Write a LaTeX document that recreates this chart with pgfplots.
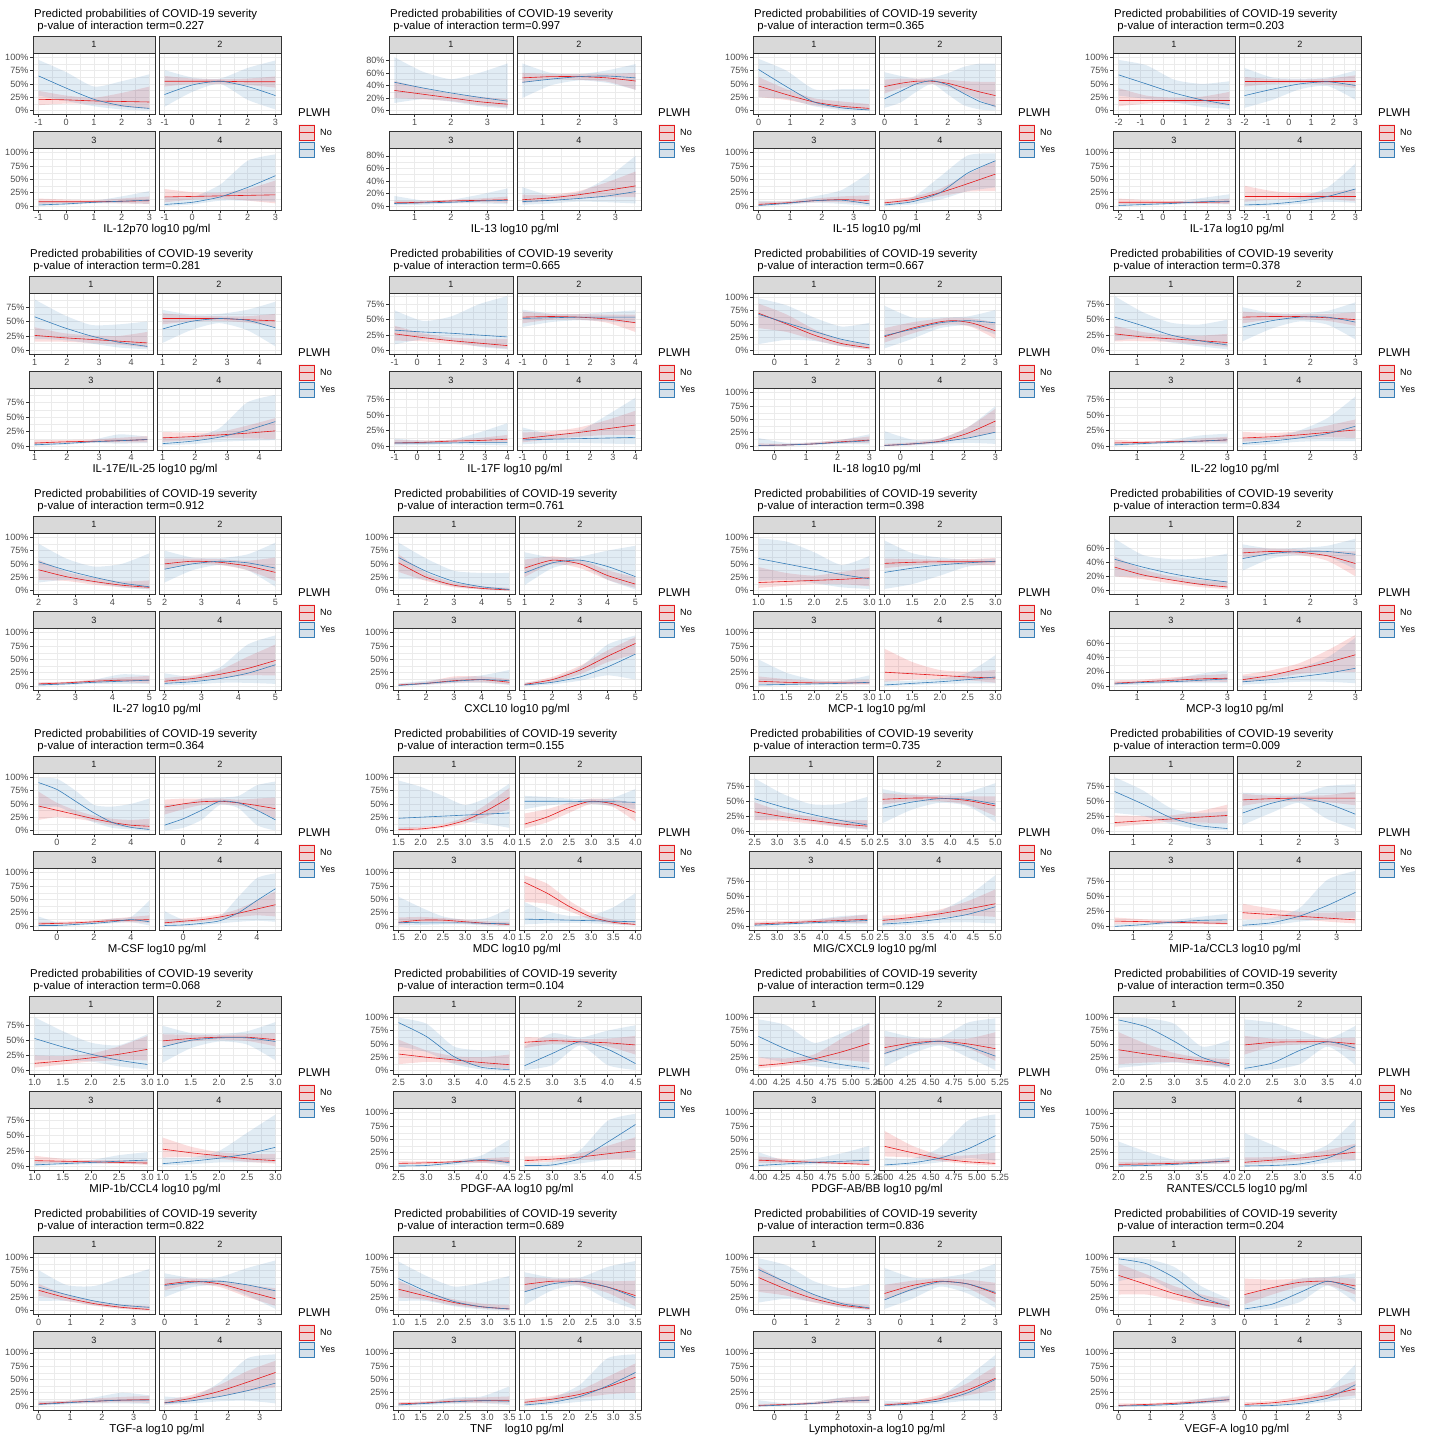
\documentclass[border=0pt]{standalone}
\usepackage{fontspec}
\setmainfont{Liberation Sans}
\usepackage{pgfplots}
\pgfplotsset{compat=1.18}
\usepgfplotslibrary{fillbetween}
\definecolor{cR}{HTML}{E41A1C}
\definecolor{cB}{HTML}{377EB8}
\definecolor{g10}{gray}{0.1}
\definecolor{g20}{gray}{0.2}
\definecolor{g30}{gray}{0.3}
\definecolor{g85}{gray}{0.85}
\definecolor{g92}{gray}{0.92}
\definecolor{g95}{gray}{0.95}
\newcommand\fs[1]{\fontsize{#1}{#1}\selectfont}
\pgfplotsset{
 base/.style={scale only axis, height=61.5pt,
   axis line style={draw=g20, line width=0.55pt},
   grid=both, major grid style={draw=g92, line width=0.6pt}, minor grid style={draw=g92, line width=0.3pt},
   tick align=outside, major tick length=2.8pt, minor tick length=0pt, tick pos=left,
   tick style={draw=g20, line width=0.55pt},
   tick label style={font=\fs{9.1}, text=g30},
   xticklabel style={inner sep=1.5pt},
   yticklabel style={inner sep=1.5pt},
   /pgf/number format/assume math mode=true,
   extra description/.code={\draw[fill=g85,draw=g20,line width=0.55pt] (0,1) rectangle ([yshift=17pt]1,1);
      \node[font=\fs{9.1},text=g10] at ([yshift=8.5pt]0.5,1) {\striplabel};}},
 fcol0/.style={},
 fcol1/.style={yticklabel style={opacity=0}, ytick style={draw=none}},
 yP/.style={ymin=-0.075,ymax=1.08,ytick={0,0.25,0.5,0.75,1},yticklabels={0\%,25\%,50\%,75\%,100\%},minor ytick={0.125,0.375,0.625,0.875}},
 yQ/.style 2 args={ymin=#1,ymax=#2,ytick={0,0.25,0.5,0.75},yticklabels={0\%,25\%,50\%,75\%},minor ytick={0.125,0.375,0.625,0.875}},
 yE/.style={ymin=-0.064,ymax=0.917,ytick={0,0.2,0.4,0.6,0.8},yticklabels={0\%,20\%,40\%,60\%,80\%},minor ytick={0.1,0.3,0.5,0.7}},
 yS/.style={ymin=-0.056,ymax=0.81,ytick={0,0.2,0.4,0.6},yticklabels={0\%,20\%,40\%,60\%},minor ytick={0.1,0.3,0.5,0.7}},
 ln/.style={line width=0.6pt, smooth, tension=0.4},
 rb/.style={draw=none, smooth, tension=0.4},
}
\newcommand\Panel[6]{%
 \pgfmathsetmacro\PX{360*#1}%
 \pgfmathsetmacro\PY{-240*#2}%
 \pgfmathsetmacro\PL{#3}%
 \pgfmathsetmacro\FW{(277-#3)/2}%
 \pgfplotsset{panel/.style={#6}}%
 \node[anchor=base west,inner sep=0pt,font=\fs{11.4}] at ({\PX pt+\PL pt+1pt},{\PY pt-17pt}) {Predicted probabilities of COVID-19 severity};
 \node[anchor=base west,inner sep=0pt,font=\fs{11.4}] at ({\PX pt+\PL pt+1pt},{\PY pt-29pt}) {\ p-value of interaction term=#4};
 \node[font=\fs{11.4}] at ({\PX pt+(\PL pt+281pt)/2},{\PY pt-230pt}) {#5};
 \pgfmathsetmacro\lx{\PX+298}%
 \node[anchor=west,inner sep=0pt,font=\fs{11.4}] at ({\lx pt},{\PY pt-113pt}) {PLWH};
 \fill[g95] ({\lx pt},{\PY pt-124pt}) rectangle ({\lx pt+17pt},{\PY pt-158pt});
 \draw[cR,line width=0.5pt,fill=cR,fill opacity=0.15] ({\lx pt+1pt},{\PY pt-125pt}) rectangle ({\lx pt+16pt},{\PY pt-140pt});
 \draw[cR,line width=0.6pt] ({\lx pt+1pt},{\PY pt-132.5pt}) -- ({\lx pt+16pt},{\PY pt-132.5pt});
 \draw[cB,line width=0.5pt,fill=cB,fill opacity=0.15] ({\lx pt+1pt},{\PY pt-142pt}) rectangle ({\lx pt+16pt},{\PY pt-157pt});
 \draw[cB,line width=0.6pt] ({\lx pt+1pt},{\PY pt-149.5pt}) -- ({\lx pt+16pt},{\PY pt-149.5pt});
 \node[anchor=west,inner sep=0pt,font=\fs{9.1}] at ({\lx pt+22pt},{\PY pt-132.5pt}) {No};
 \node[anchor=west,inner sep=0pt,font=\fs{9.1}] at ({\lx pt+22pt},{\PY pt-149.5pt}) {Yes};
}
\newcommand\Facet[5]{%
 \pgfmathsetmacro\fx{\PX+\PL+#1*(\FW+4)}%
 \pgfmathsetmacro\fy{\PY-53-#2*95.5}%
 \def\striplabel{#3}%
 \begin{axis}[base,panel,fcol#1,at={(\fx pt,\fy pt)},anchor=north west,width=\FW pt]
  \addplot[ln,cR] table[row sep=\\]{#4};
  \addplot[ln,cB] table[row sep=\\]{#5};
  \addplot[rb,name path=ru] table[row sep=\\,y index=3]{#4};
  \addplot[rb,name path=rl] table[row sep=\\,y index=2]{#4};
  \addplot[fill=cR,fill opacity=0.15,draw=none] fill between[of=ru and rl];
  \addplot[rb,name path=bu] table[row sep=\\,y index=3]{#5};
  \addplot[rb,name path=bl] table[row sep=\\,y index=2]{#5};
  \addplot[fill=cB,fill opacity=0.15,draw=none] fill between[of=bu and bl];
 \end{axis}}
\begin{document}
\begin{tikzpicture}
\path (0pt,0pt) rectangle (1435pt,-1441pt);
% ---------- P1 IL-12p70
\Panel{0}{0}{33}{0.227}{IL-12p70 log10 pg/ml}{yP,xmin=-1.2,xmax=3.2,xtick={-1,0,1,2,3},xticklabels={-1,0,1,2,3},minor xtick={-0.5,0.5,1.5,2.5}}
\Facet{0}{0}{1}{-1 .21 .10 .37\\ 0 .20 .13 .28\\ 1 .18 .12 .24\\ 2 .17 .07 .33\\ 3 .16 .03 .45\\}{-1 .65 .28 .95\\ 0 .42 .18 .72\\ 1 .21 .08 .45\\ 2 .09 .02 .55\\ 3 .04 0 .68\\}
\Facet{1}{0}{2}{-1 .55 .45 .65\\ 0 .55 .50 .60\\ 1 .55 .50 .59\\ 2 .54 .48 .60\\ 3 .54 .43 .64\\}{-1 .30 .07 .76\\ 0 .48 .35 .62\\ 1 .55 .50 .60\\ 2 .45 .20 .80\\ 3 .28 .02 .94\\}
\Facet{0}{1}{3}{-1 .08 .04 .14\\ 0 .08 .05 .12\\ 1 .08 .06 .11\\ 2 .09 .05 .14\\ 3 .10 .04 .18\\}{-1 .02 0 .10\\ 0 .04 .02 .09\\ 1 .07 .05 .10\\ 2 .09 .05 .18\\ 3 .11 .04 .28\\}
\Facet{1}{1}{4}{-1 .17 .07 .32\\ 0 .18 .12 .26\\ 1 .19 .14 .25\\ 2 .20 .10 .32\\ 3 .21 .05 .48\\}{-1 .03 0 .18\\ 0 .07 .03 .17\\ 1 .17 .10 .40\\ 2 .35 .10 .85\\ 3 .57 .08 .97\\}
% ---------- P2 IL-13
\Panel{1}{0}{29}{0.997}{IL-13 log10 pg/ml}{yE,xmin=0.3,xmax=3.7,xtick={1,2,3},xticklabels={1,2,3},minor xtick={0.5,1.5,2.5,3.5}}
\Facet{0}{0}{1}{.45 .32 .20 .47\\ 1.225 .26 .18 .36\\ 2 .20 .15 .27\\ 2.775 .14 .09 .22\\ 3.55 .10 .05 .18\\}{.45 .45 .12 .85\\ 1.225 .36 .18 .62\\ 2 .28 .14 .50\\ 2.775 .21 .07 .60\\ 3.55 .15 .03 .75\\}
\Facet{1}{0}{2}{.45 .52 .44 .60\\ 1.225 .54 .50 .58\\ 2 .54 .49 .58\\ 2.775 .52 .46 .58\\ 3.55 .47 .33 .60\\}{.45 .45 .20 .75\\ 1.225 .50 .40 .60\\ 2 .54 .48 .58\\ 2.775 .55 .44 .64\\ 3.55 .52 .33 .74\\}
\Facet{0}{1}{3}{.45 .05 .03 .08\\ 1.225 .06 .04 .08\\ 2 .08 .05 .10\\ 2.775 .09 .06 .12\\ 3.55 .10 .05 .15\\}{.45 .04 .01 .16\\ 1.225 .05 .02 .09\\ 2 .06 .04 .10\\ 2.775 .08 .04 .18\\ 3.55 .09 .03 .28\\}
\Facet{1}{1}{4}{.45 .10 .05 .18\\ 1.225 .13 .08 .18\\ 2 .18 .12 .24\\ 2.775 .25 .14 .38\\ 3.55 .32 .14 .55\\}{.45 .07 .02 .30\\ 1.225 .09 .04 .17\\ 2 .12 .07 .22\\ 2.775 .16 .06 .45\\ 3.55 .23 .04 .80\\}
% ---------- P3 IL-15
\Panel{2}{0}{33}{0.365}{IL-15 log10 pg/ml}{yP,xmin=-0.175,xmax=3.675,xtick={0,1,2,3},xticklabels={0,1,2,3},minor xtick={0.5,1.5,2.5,3.5}}
\Facet{0}{0}{1}{0 .46 .25 .63\\ .875 .30 .20 .40\\ 1.75 .16 .10 .23\\ 2.625 .08 .04 .17\\ 3.5 .04 .01 .12\\}{0 .77 .25 .97\\ .875 .45 .22 .75\\ 1.75 .16 .08 .40\\ 2.625 .05 .01 .40\\ 3.5 .01 0 .40\\}
\Facet{1}{0}{2}{0 .45 .32 .58\\ .5 .51 .42 .60\\ 1 .55 .48 .60\\ 1.5 .55 .50 .60\\ 2 .51 .44 .58\\ 2.5 .43 .33 .55\\ 3 .35 .20 .54\\ 3.5 .28 .05 .54\\}{0 .22 .05 .72\\ .5 .36 .15 .65\\ 1 .50 .35 .60\\ 1.5 .56 .50 .62\\ 2 .48 .30 .70\\ 2.5 .32 .10 .82\\ 3 .17 .02 .88\\ 3.5 .08 0 .88\\}
\Facet{0}{1}{3}{0 .03 .01 .08\\ .875 .06 .04 .09\\ 1.75 .10 .07 .14\\ 2.625 .12 .07 .18\\ 3.5 .10 .04 .20\\}{0 .01 0 .10\\ .875 .05 .02 .09\\ 1.75 .10 .06 .18\\ 2.625 .11 .04 .30\\ 3.5 .04 0 .63\\}
\Facet{1}{1}{4}{0 .06 .03 .12\\ .875 .12 .08 .17\\ 1.75 .25 .18 .32\\ 2.625 .42 .27 .60\\ 3.5 .60 .28 .85\\}{0 .02 0 .08\\ .875 .08 .03 .16\\ 1.75 .25 .12 .55\\ 2.625 .62 .28 .95\\ 3.5 .85 .35 .99\\}
% ---------- P4 IL-17a
\Panel{3}{0}{33}{0.203}{IL-17a log10 pg/ml}{yP,xmin=-2.25,xmax=3.25,xtick={-2,-1,0,1,2,3},xticklabels={-2,-1,0,1,2,3},minor xtick={-1.5,-0.5,0.5,1.5,2.5}}
\Facet{0}{0}{1}{-2 .19 .08 .42\\ -.75 .19 .13 .28\\ .5 .19 .15 .24\\ 1.75 .19 .14 .26\\ 3 .19 .09 .35\\}{-2 .67 .28 .95\\ -.75 .50 .22 .85\\ .5 .33 .15 .58\\ 1.75 .20 .07 .50\\ 3 .11 .03 .55\\}
\Facet{1}{0}{2}{-2 .54 .45 .63\\ -.75 .54 .50 .59\\ .5 .54 .51 .58\\ 1.75 .54 .49 .60\\ 3 .54 .42 .66\\}{-2 .28 .05 .80\\ -.75 .40 .20 .62\\ .5 .50 .40 .60\\ 1.75 .54 .46 .62\\ 3 .47 .20 .75\\}
\Facet{0}{1}{3}{-2 .07 .03 .14\\ -.75 .07 .04 .11\\ .5 .07 .05 .10\\ 1.75 .07 .05 .10\\ 3 .08 .04 .14\\}{-2 .01 0 .06\\ -.75 .03 .01 .06\\ .5 .05 .03 .08\\ 1.75 .08 .04 .15\\ 3 .09 .03 .22\\}
\Facet{1}{1}{4}{-2 .18 .08 .38\\ -.75 .18 .12 .28\\ .5 .18 .13 .24\\ 1.75 .18 .13 .26\\ 3 .18 .09 .32\\}{-2 .02 0 .12\\ -.75 .04 .01 .12\\ .5 .09 .04 .17\\ 1.75 .18 .08 .35\\ 3 .32 .06 .80\\}
% ---------- P5 IL-17E/IL-25
\Panel{0}{1}{29}{0.281}{IL-17E/IL-25 log10 pg/ml}{yQ={-0.07}{0.99},xmin=0.825,xmax=4.675,xtick={1,2,3,4},xticklabels={1,2,3,4},minor xtick={1.5,2.5,3.5,4.5}}
\Facet{0}{0}{1}{1 .26 .15 .40\\ 1.875 .22 .15 .30\\ 2.75 .19 .13 .26\\ 3.625 .16 .10 .25\\ 4.5 .13 .05 .32\\}{1 .58 .20 .88\\ 1.875 .40 .18 .62\\ 2.75 .25 .12 .44\\ 3.625 .14 .05 .45\\ 4.5 .07 .02 .50\\}
\Facet{1}{0}{2}{1 .55 .45 .64\\ 1.875 .55 .50 .60\\ 2.75 .55 .51 .59\\ 3.625 .53 .48 .59\\ 4.5 .51 .40 .63\\}{1 .37 .13 .70\\ 1.875 .50 .35 .62\\ 2.75 .55 .47 .63\\ 3.625 .52 .35 .70\\ 4.5 .39 .07 .84\\}
\Facet{0}{1}{3}{1 .05 .03 .10\\ 1.875 .07 .05 .10\\ 2.75 .08 .06 .11\\ 3.625 .09 .06 .14\\ 4.5 .11 .06 .17\\}{1 .02 0 .06\\ 1.875 .04 .02 .06\\ 2.75 .07 .05 .10\\ 3.625 .09 .04 .20\\ 4.5 .11 .05 .16\\}
\Facet{1}{1}{4}{1 .14 .07 .24\\ 1.875 .16 .10 .23\\ 2.75 .19 .14 .24\\ 3.625 .22 .13 .35\\ 4.5 .26 .12 .48\\}{1 .04 .01 .15\\ 1.875 .08 .03 .16\\ 2.75 .15 .07 .30\\ 3.625 .27 .09 .75\\ 4.5 .42 .10 .88\\}
% ---------- P6 IL-17F
\Panel{1}{1}{29}{0.665}{IL-17F log10 pg/ml}{yQ={-0.064}{0.93},xmin=-1.25,xmax=4.25,xtick={-1,0,1,2,3,4},xticklabels={-1,0,1,2,3,4},minor xtick={-0.5,0.5,1.5,2.5,3.5}}
\Facet{0}{0}{1}{-1 .27 .16 .40\\ .25 .21 .15 .28\\ 1.5 .16 .11 .21\\ 2.75 .12 .07 .19\\ 4 .08 .03 .19\\}{-1 .33 .10 .65\\ .25 .30 .18 .48\\ 1.5 .28 .15 .55\\ 2.75 .25 .06 .75\\ 4 .22 .02 .88\\}
\Facet{1}{0}{2}{-1 .54 .44 .63\\ .25 .55 .50 .59\\ 1.5 .54 .50 .59\\ 2.75 .51 .45 .58\\ 4 .45 .30 .58\\}{-1 .52 .38 .66\\ .25 .53 .46 .60\\ 1.5 .54 .49 .59\\ 2.75 .54 .47 .62\\ 4 .54 .44 .65\\}
\Facet{0}{1}{3}{-1 .05 .03 .10\\ .25 .06 .04 .09\\ 1.5 .08 .05 .10\\ 2.75 .09 .06 .13\\ 4 .11 .06 .18\\}{-1 .05 .01 .12\\ .25 .05 .02 .09\\ 1.5 .05 .03 .10\\ 2.75 .06 .02 .22\\ 4 .06 .01 .37\\}
\Facet{1}{1}{4}{-1 .12 .06 .22\\ .25 .17 .11 .24\\ 1.5 .22 .15 .30\\ 2.75 .28 .18 .42\\ 4 .34 .18 .57\\}{-1 .10 .03 .30\\ .25 .11 .05 .20\\ 1.5 .12 .05 .24\\ 2.75 .13 .04 .50\\ 4 .14 .03 .78\\}
% ---------- P7 IL-18
\Panel{2}{1}{33}{0.667}{IL-18 log10 pg/ml}{yP,xmin=-0.675,xmax=3.175,xtick={0,1,2,3},xticklabels={0,1,2,3},minor xtick={-0.5,0.5,1.5,2.5}}
\Facet{0}{0}{1}{-.5 .70 .42 .88\\ .375 .50 .35 .68\\ 1.25 .29 .20 .40\\ 2.125 .13 .08 .20\\ 3 .05 .02 .12\\}{-.5 .68 .12 .98\\ .375 .52 .20 .85\\ 1.25 .36 .18 .62\\ 2.125 .21 .08 .45\\ 3 .11 .02 .52\\}
\Facet{1}{0}{2}{-.5 .26 .15 .42\\ .375 .42 .32 .53\\ 1.25 .54 .47 .60\\ 1.75 .56 .50 .62\\ 2.3 .51 .43 .60\\ 3 .37 .22 .53\\}{-.5 .28 .04 .84\\ .375 .40 .22 .62\\ 1.25 .52 .42 .62\\ 2.125 .56 .47 .64\\ 3 .52 .30 .76\\}
\Facet{0}{1}{3}{-.5 .01 0 .05\\ .375 .02 .01 .04\\ 1.25 .04 .03 .07\\ 2.125 .08 .05 .12\\ 3 .11 .06 .18\\}{-.5 .01 0 .15\\ .375 .02 0 .06\\ 1.25 .04 .02 .07\\ 2.125 .07 .04 .12\\ 3 .10 .03 .22\\}
\Facet{1}{1}{4}{-.5 .01 0 .04\\ .375 .04 .02 .07\\ 1.25 .09 .06 .14\\ 2.125 .24 .15 .35\\ 3 .47 .25 .70\\}{-.5 .01 0 .28\\ .375 .04 .01 .12\\ 1.25 .08 .04 .14\\ 2.125 .15 .06 .35\\ 3 .26 .04 .75\\}
% ---------- P8 IL-22
\Panel{3}{1}{29}{0.378}{IL-22 log10 pg/ml}{yQ={-0.064}{0.93},xmin=0.375,xmax=3.125,xtick={1,2,3},xticklabels={1,2,3},minor xtick={0.5,1.5,2.5}}
\Facet{0}{0}{1}{.5 .27 .15 .40\\ 1.125 .22 .15 .30\\ 1.75 .19 .14 .25\\ 2.375 .16 .10 .24\\ 3 .13 .06 .27\\}{.5 .54 .16 .88\\ 1.125 .40 .20 .62\\ 1.75 .25 .13 .45\\ 2.375 .16 .07 .42\\ 3 .09 .02 .50\\}
\Facet{1}{0}{2}{.5 .54 .44 .63\\ 1.125 .55 .50 .60\\ 1.75 .55 .51 .59\\ 2.375 .53 .48 .59\\ 3 .50 .40 .62\\}{.5 .38 .15 .70\\ 1.125 .48 .35 .61\\ 1.75 .54 .47 .60\\ 2.375 .54 .42 .64\\ 3 .46 .18 .78\\}
\Facet{0}{1}{3}{.5 .05 .03 .10\\ 1.125 .06 .04 .08\\ 1.75 .07 .05 .09\\ 2.375 .08 .06 .12\\ 3 .10 .06 .15\\}{.5 .02 0 .06\\ 1.125 .04 .02 .06\\ 1.75 .06 .04 .10\\ 2.375 .08 .04 .17\\ 3 .10 .04 .20\\}
\Facet{1}{1}{4}{.5 .13 .07 .23\\ 1.125 .15 .10 .21\\ 1.75 .18 .13 .24\\ 2.375 .22 .14 .33\\ 3 .26 .13 .43\\}{.5 .04 .01 .12\\ 1.125 .08 .03 .14\\ 1.75 .13 .07 .25\\ 2.375 .20 .08 .45\\ 3 .32 .08 .80\\}
% ---------- P9 IL-27
\Panel{0}{2}{33}{0.912}{IL-27 log10 pg/ml}{yP,xmin=1.85,xmax=5.15,xtick={2,3,4,5},xticklabels={2,3,4,5},minor xtick={2.5,3.5,4.5}}
\Facet{0}{0}{1}{2 .39 .20 .58\\ 2.75 .26 .18 .35\\ 3.5 .17 .11 .24\\ 4.25 .10 .06 .17\\ 5 .06 .03 .19\\}{2 .54 .15 .88\\ 2.75 .38 .20 .60\\ 3.5 .25 .15 .45\\ 4.25 .14 .06 .50\\ 5 .07 .02 .70\\}
\Facet{1}{0}{2}{2 .50 .40 .60\\ 2.75 .55 .50 .60\\ 3.5 .53 .48 .59\\ 4.25 .46 .38 .56\\ 5 .34 .18 .62\\}{2 .40 .15 .75\\ 2.75 .50 .38 .62\\ 3.5 .55 .48 .61\\ 4.25 .52 .38 .68\\ 5 .42 .07 .90\\}
\Facet{0}{1}{3}{2 .04 .02 .07\\ 2.75 .06 .04 .08\\ 3.5 .09 .06 .12\\ 4.25 .11 .07 .16\\ 5 .11 .05 .19\\}{2 .02 0 .06\\ 2.75 .04 .02 .07\\ 3.5 .07 .04 .12\\ 4.25 .09 .04 .22\\ 5 .11 .04 .20\\}
\Facet{1}{1}{4}{2 .09 .05 .15\\ 2.75 .14 .09 .20\\ 3.5 .22 .15 .30\\ 4.25 .33 .20 .55\\ 5 .48 .20 .78\\}{2 .05 .01 .24\\ 2.75 .08 .03 .18\\ 3.5 .14 .06 .35\\ 4.25 .24 .06 .78\\ 5 .40 .04 .95\\}
% ---------- P10 CXCL10
\Panel{1}{2}{33}{0.761}{CXCL10 log10 pg/ml}{yP,xmin=0.8,xmax=5.2,xtick={1,2,3,4,5},xticklabels={1,2,3,4,5},minor xtick={1.5,2.5,3.5,4.5}}
\Facet{0}{0}{1}{1 .52 .35 .68\\ 2 .25 .18 .33\\ 3 .10 .06 .15\\ 4 .04 .02 .08\\ 5 .01 0 .05\\}{1 .62 .22 .90\\ 2 .36 .20 .60\\ 3 .17 .08 .37\\ 4 .07 .02 .33\\ 5 .02 0 .33\\}
\Facet{1}{0}{2}{1 .42 .25 .58\\ 2 .57 .50 .64\\ 3 .50 .42 .58\\ 4 .28 .20 .38\\ 5 .12 .05 .25\\}{1 .33 .10 .72\\ 2 .52 .42 .62\\ 3 .57 .50 .64\\ 4 .45 .20 .75\\ 5 .26 .02 .84\\}
\Facet{0}{1}{3}{1 .02 .01 .04\\ 2 .05 .03 .08\\ 3 .10 .06 .18\\ 4 .12 .07 .18\\ 5 .07 .03 .13\\}{1 .01 0 .05\\ 2 .05 .02 .10\\ 3 .09 .05 .15\\ 4 .12 .06 .20\\ 5 .10 .02 .30\\}
\Facet{1}{1}{4}{1 .03 .01 .06\\ 2 .12 .07 .17\\ 3 .30 .22 .38\\ 4 .56 .45 .67\\ 5 .80 .60 .92\\}{1 .02 0 .06\\ 2 .07 .03 .14\\ 3 .17 .10 .35\\ 4 .36 .20 .78\\ 5 .60 .12 .95\\}
% ---------- P11 MCP-1
\Panel{2}{2}{33}{0.398}{MCP-1 log10 pg/ml}{yP,xmin=0.9,xmax=3.1,xtick={1,1.5,2,2.5,3},xticklabels={1.0,1.5,2.0,2.5,3.0},minor xtick={1.25,1.75,2.25,2.75}}
\Facet{0}{0}{1}{1 .15 .05 .44\\ 1.5 .17 .09 .33\\ 2 .19 .12 .28\\ 2.5 .21 .12 .35\\ 3 .24 .08 .42\\}{1 .60 .18 .98\\ 1.5 .50 .20 .92\\ 2 .40 .14 .72\\ 2.5 .30 .06 .48\\ 3 .22 .03 .65\\}
\Facet{1}{0}{2}{1 .51 .42 .60\\ 1.5 .53 .47 .59\\ 2 .54 .50 .58\\ 2.5 .54 .49 .59\\ 3 .54 .47 .61\\}{1 .34 .03 .94\\ 1.5 .42 .12 .70\\ 2 .48 .28 .62\\ 2.5 .52 .45 .58\\ 3 .55 .49 .60\\}
\Facet{0}{1}{3}{1 .09 .04 .18\\ 1.5 .07 .04 .13\\ 2 .06 .04 .10\\ 2.5 .06 .03 .10\\ 3 .06 .03 .12\\}{1 .02 0 .50\\ 1.5 .03 .01 .25\\ 2 .04 .02 .12\\ 2.5 .05 .03 .10\\ 3 .07 .03 .20\\}
\Facet{1}{1}{4}{1 .26 .08 .70\\ 1.5 .23 .12 .45\\ 2 .20 .13 .30\\ 2.5 .17 .11 .27\\ 3 .15 .06 .30\\}{1 .02 0 .10\\ 1.5 .05 .02 .10\\ 2 .08 .04 .14\\ 2.5 .12 .05 .25\\ 3 .17 .05 .58\\}
% ---------- P12 MCP-3
\Panel{3}{2}{29}{0.834}{MCP-3 log10 pg/ml}{yS,xmin=0.375,xmax=3.125,xtick={1,2,3},xticklabels={1,2,3},minor xtick={0.5,1.5,2.5}}
\Facet{0}{0}{1}{.5 .33 .20 .48\\ 1.125 .22 .16 .30\\ 1.75 .15 .10 .20\\ 2.375 .09 .05 .15\\ 3 .05 .02 .13\\}{.5 .44 .20 .73\\ 1.125 .33 .20 .50\\ 1.75 .24 .15 .44\\ 2.375 .17 .08 .45\\ 3 .12 .04 .52\\}
\Facet{1}{0}{2}{.5 .53 .46 .60\\ 1.125 .55 .51 .59\\ 1.75 .54 .50 .58\\ 2.375 .49 .42 .56\\ 3 .38 .20 .55\\}{.5 .45 .28 .65\\ 1.125 .52 .45 .59\\ 1.75 .55 .50 .60\\ 2.375 .55 .48 .63\\ 3 .51 .30 .73\\}
\Facet{0}{1}{3}{.5 .04 .02 .08\\ 1.125 .06 .04 .09\\ 1.75 .08 .05 .12\\ 2.375 .10 .06 .15\\ 3 .11 .06 .17\\}{.5 .03 .01 .06\\ 1.125 .05 .02 .07\\ 1.75 .06 .04 .10\\ 2.375 .08 .04 .17\\ 3 .10 .04 .22\\}
\Facet{1}{1}{4}{.5 .09 .05 .16\\ 1.125 .15 .10 .22\\ 1.75 .24 .17 .32\\ 2.375 .33 .20 .50\\ 3 .44 .20 .72\\}{.5 .06 .02 .14\\ 1.125 .09 .04 .15\\ 1.75 .13 .06 .25\\ 2.375 .18 .06 .40\\ 3 .25 .04 .68\\}
% ---------- P13 M-CSF
\Panel{0}{3}{33}{0.364}{M-CSF log10 pg/ml}{yP,xmin=-1.3,xmax=5.3,xtick={0,2,4},xticklabels={0,2,4},minor xtick={-1,1,3,5}}
\Facet{0}{0}{1}{-1 .46 .20 .73\\ 0 .38 .25 .52\\ 1 .30 .22 .38\\ 2 .22 .17 .28\\ 3 .15 .10 .22\\ 4 .10 .05 .20\\ 5 .08 .02 .22\\}{-1 .90 .40 .99\\ 0 .77 .45 .97\\ 1 .55 .30 .75\\ 2 .33 .15 .48\\ 3 .15 .05 .45\\ 4 .06 .02 .50\\ 5 .02 0 .60\\}
\Facet{1}{0}{2}{-1 .44 .30 .58\\ 0 .50 .40 .60\\ 1 .54 .48 .60\\ 2 .55 .50 .60\\ 3 .52 .47 .58\\ 4 .47 .38 .60\\ 5 .41 .22 .62\\}{-1 .10 0 .48\\ 0 .22 .05 .50\\ 1 .38 .20 .60\\ 2 .55 .48 .62\\ 3 .52 .42 .65\\ 4 .38 .10 .85\\ 5 .20 0 .92\\}
\Facet{0}{1}{3}{-1 .04 .02 .08\\ 0 .05 .03 .08\\ 1 .06 .04 .09\\ 2 .08 .06 .11\\ 3 .10 .07 .14\\ 4 .11 .07 .17\\ 5 .12 .06 .20\\}{-1 .01 0 .18\\ 0 .01 0 .07\\ 1 .03 .01 .06\\ 2 .05 .03 .09\\ 3 .08 .05 .14\\ 4 .12 .07 .17\\ 5 .08 .01 .48\\}
\Facet{1}{1}{4}{-1 .06 .03 .12\\ 0 .09 .06 .14\\ 1 .12 .08 .17\\ 2 .17 .12 .22\\ 3 .24 .17 .32\\ 4 .32 .20 .48\\ 5 .40 .18 .65\\}{-1 .01 0 .28\\ 0 .02 0 .12\\ 1 .05 .02 .12\\ 2 .10 .05 .18\\ 3 .25 .08 .55\\ 4 .48 .10 .90\\ 5 .70 .08 .99\\}
% ---------- P14 MDC
\Panel{1}{3}{33}{0.155}{MDC log10 pg/ml}{yP,xmin=1.375,xmax=4.125,xtick={1.5,2,2.5,3,3.5,4},xticklabels={1.5,2.0,2.5,3.0,3.5,4.0},minor xtick={1.75,2.25,2.75,3.25,3.75}}
\Facet{0}{0}{1}{1.5 .02 0 .06\\ 2 .03 .01 .07\\ 2.5 .08 .05 .12\\ 3 .19 .13 .25\\ 3.5 .38 .27 .50\\ 4 .62 .40 .80\\}{1.5 .23 .02 .94\\ 2 .25 .06 .82\\ 2.5 .27 .12 .65\\ 3 .29 .16 .48\\ 3.5 .31 .12 .62\\ 4 .33 .05 .88\\}
\Facet{1}{0}{2}{1.5 .12 .04 .32\\ 2 .25 .15 .40\\ 2.5 .43 .33 .52\\ 3 .55 .50 .60\\ 3.5 .50 .44 .58\\ 4 .34 .17 .52\\}{1.5 .55 .40 .65\\ 2 .55 .47 .63\\ 2.5 .55 .50 .60\\ 3 .54 .50 .59\\ 3.5 .54 .46 .62\\ 4 .53 .40 .78\\}
\Facet{0}{1}{3}{1.5 .07 .03 .16\\ 2 .11 .07 .17\\ 2.5 .11 .07 .15\\ 3 .08 .05 .12\\ 3.5 .05 .02 .09\\ 4 .03 .01 .08\\}{1.5 .07 .01 .55\\ 2 .06 .02 .35\\ 2.5 .06 .03 .18\\ 3 .06 .03 .12\\ 3.5 .05 .01 .15\\ 4 .04 0 .33\\}
\Facet{1}{1}{4}{1.5 .82 .45 .95\\ 2 .62 .42 .80\\ 2.5 .37 .28 .48\\ 3 .17 .12 .24\\ 3.5 .07 .04 .12\\ 4 .03 .01 .08\\}{1.5 .13 .03 .45\\ 2 .12 .05 .28\\ 2.5 .11 .06 .19\\ 3 .10 .05 .20\\ 3.5 .09 .03 .35\\ 4 .08 .01 .62\\}
% ---------- P15 MIG/CXCL9
\Panel{2}{3}{29}{0.735}{MIG/CXCL9 log10 pg/ml}{yQ={-0.06}{0.97},xmin=2.375,xmax=5.125,xtick={2.5,3,3.5,4,4.5,5},xticklabels={2.5,3.0,3.5,4.0,4.5,5.0},minor xtick={2.75,3.25,3.75,4.25,4.75}}
\Facet{0}{0}{1}{2.5 .32 .18 .48\\ 3.125 .24 .17 .32\\ 3.75 .18 .12 .24\\ 4.375 .12 .07 .19\\ 5 .08 .03 .18\\}{2.5 .54 .18 .88\\ 3.125 .40 .20 .62\\ 3.75 .28 .16 .45\\ 4.375 .18 .07 .45\\ 5 .10 .02 .57\\}
\Facet{1}{0}{2}{2.5 .53 .44 .63\\ 3.125 .55 .50 .60\\ 3.75 .55 .50 .59\\ 4.375 .51 .44 .58\\ 5 .42 .25 .58\\}{2.5 .38 .13 .70\\ 3.125 .48 .35 .62\\ 3.75 .54 .47 .60\\ 4.375 .53 .42 .65\\ 5 .45 .15 .80\\}
\Facet{0}{1}{3}{2.5 .04 .02 .08\\ 3.125 .06 .04 .09\\ 3.75 .08 .06 .11\\ 4.375 .10 .06 .15\\ 5 .12 .06 .20\\}{2.5 .02 0 .06\\ 3.125 .04 .02 .07\\ 3.75 .06 .04 .11\\ 4.375 .08 .04 .17\\ 5 .10 .04 .20\\}
\Facet{1}{1}{4}{2.5 .10 .05 .18\\ 3.125 .15 .10 .21\\ 3.75 .21 .15 .28\\ 4.375 .29 .18 .42\\ 5 .38 .16 .62\\}{2.5 .04 .01 .14\\ 3.125 .07 .03 .14\\ 3.75 .12 .06 .25\\ 4.375 .20 .07 .50\\ 5 .33 .05 .86\\}
% ---------- P16 MIP-1a/CCL3
\Panel{3}{3}{29}{0.009}{MIP-1a/CCL3 log10 pg/ml}{yQ={-0.06}{0.97},xmin=0.35,xmax=3.65,xtick={1,2,3},xticklabels={1,2,3},minor xtick={0.5,1.5,2.5,3.5}}
\Facet{0}{0}{1}{.5 .14 .07 .26\\ 1.25 .17 .11 .25\\ 2 .20 .15 .26\\ 2.75 .23 .14 .33\\ 3.5 .26 .13 .44\\}{.5 .66 .30 .90\\ 1.25 .45 .25 .68\\ 2 .22 .12 .38\\ 2.75 .09 .03 .30\\ 3.5 .04 .01 .33\\}
\Facet{1}{0}{2}{.5 .52 .42 .62\\ 1.25 .54 .49 .59\\ 2 .55 .50 .59\\ 2.75 .55 .48 .60\\ 3.5 .55 .43 .66\\}{.5 .30 .10 .64\\ 1.25 .46 .30 .62\\ 2 .55 .47 .62\\ 2.75 .46 .20 .75\\ 3.5 .28 .03 .78\\}
\Facet{0}{1}{3}{.5 .09 .04 .15\\ 1.25 .08 .05 .12\\ 2 .07 .05 .10\\ 2.75 .06 .04 .09\\ 3.5 .05 .03 .10\\}{.5 0 0 .04\\ 1.25 .03 .01 .06\\ 2 .07 .04 .10\\ 2.75 .10 .05 .16\\ 3.5 .11 .04 .21\\}
\Facet{1}{1}{4}{.5 .23 .12 .38\\ 1.25 .20 .13 .30\\ 2 .17 .12 .24\\ 2.75 .14 .08 .23\\ 3.5 .11 .05 .25\\}{.5 .02 0 .10\\ 1.25 .06 .02 .14\\ 2 .17 .08 .30\\ 2.75 .35 .12 .78\\ 3.5 .57 .14 .93\\}
% ---------- P17 MIP-1b/CCL4
\Panel{0}{4}{29}{0.068}{MIP-1b/CCL4 log10 pg/ml}{yQ={-0.065}{0.95},xmin=0.9,xmax=3.1,xtick={1,1.5,2,2.5,3},xticklabels={1.0,1.5,2.0,2.5,3.0},minor xtick={1.25,1.75,2.25,2.75}}
\Facet{0}{0}{1}{1 .12 .05 .25\\ 1.5 .16 .10 .24\\ 2 .21 .15 .28\\ 2.5 .27 .17 .40\\ 3 .35 .17 .57\\}{1 .53 .17 .88\\ 1.5 .39 .17 .65\\ 2 .27 .15 .46\\ 2.5 .17 .07 .42\\ 3 .10 .02 .60\\}
\Facet{1}{0}{2}{1 .49 .40 .60\\ 1.5 .53 .48 .59\\ 2 .55 .51 .59\\ 2.5 .55 .49 .60\\ 3 .51 .40 .62\\}{1 .39 .13 .74\\ 1.5 .50 .37 .62\\ 2 .54 .48 .60\\ 2.5 .54 .43 .65\\ 3 .48 .17 .80\\}
\Facet{0}{1}{3}{1 .09 .04 .17\\ 1.5 .08 .05 .12\\ 2 .07 .05 .10\\ 2.5 .06 .04 .10\\ 3 .05 .02 .10\\}{1 .02 0 .08\\ 1.5 .04 .02 .08\\ 2 .06 .03 .10\\ 2.5 .08 .04 .18\\ 3 .10 .03 .23\\}
\Facet{1}{1}{4}{1 .28 .14 .47\\ 1.5 .22 .15 .32\\ 2 .17 .12 .23\\ 2.5 .12 .07 .20\\ 3 .09 .04 .20\\}{1 .04 .01 .14\\ 1.5 .08 .03 .14\\ 2 .13 .06 .25\\ 2.5 .20 .06 .55\\ 3 .31 .06 .85\\}
% ---------- P18 PDGF-AA
\Panel{1}{4}{33}{0.104}{PDGF-AA log10 pg/ml}{yP,xmin=2.4,xmax=4.6,xtick={2.5,3,3.5,4,4.5},xticklabels={2.5,3.0,3.5,4.0,4.5},minor xtick={2.75,3.25,3.75,4.25}}
\Facet{0}{0}{1}{2.5 .31 .12 .58\\ 3 .25 .16 .38\\ 3.5 .20 .14 .27\\ 4 .15 .08 .25\\ 4.5 .11 .03 .30\\}{2.5 .90 .45 .99\\ 3 .64 .35 .88\\ 3.5 .26 .12 .45\\ 4 .06 .02 .38\\ 4.5 .02 0 .38\\}
\Facet{1}{0}{2}{2.5 .53 .42 .63\\ 3 .56 .50 .61\\ 3.5 .54 .49 .59\\ 4 .52 .45 .60\\ 4.5 .48 .30 .65\\}{2.5 .09 .01 .45\\ 3 .32 .10 .70\\ 3.5 .54 .47 .62\\ 4 .40 .10 .75\\ 4.5 .13 .01 .85\\}
\Facet{0}{1}{3}{2.5 .05 .03 .09\\ 3 .06 .04 .09\\ 3.5 .08 .06 .10\\ 4 .10 .06 .14\\ 4.5 .09 .04 .17\\}{2.5 0 0 .04\\ 3 .01 0 .04\\ 3.5 .06 .02 .10\\ 4 .12 .06 .20\\ 4.5 .06 0 .50\\}
\Facet{1}{1}{4}{2.5 .10 .05 .18\\ 3 .13 .08 .19\\ 3.5 .17 .12 .24\\ 4 .23 .13 .38\\ 4.5 .29 .12 .54\\}{2.5 .01 0 .06\\ 3 .02 0 .08\\ 3.5 .14 .05 .30\\ 4 .45 .12 .85\\ 4.5 .78 .15 .98\\}
% ---------- P19 PDGF-AB/BB
\Panel{2}{4}{33}{0.129}{PDGF-AB/BB log10 pg/ml}{yP,xmin=3.94,xmax=5.26,xtick={4,4.25,4.5,4.75,5,5.25},xticklabels={4.00,4.25,4.50,4.75,5.00,5.25},minor xtick={4.125,4.375,4.625,4.875,5.125}}
\Facet{0}{0}{1}{4 .09 .04 .25\\ 4.3 .14 .09 .23\\ 4.6 .22 .16 .30\\ 4.9 .35 .20 .60\\ 5.2 .51 .15 .88\\}{4 .64 .25 .96\\ 4.3 .40 .15 .85\\ 4.6 .22 .08 .52\\ 4.9 .11 .03 .70\\ 5.2 .04 .01 .90\\}
\Facet{1}{0}{2}{4 .43 .30 .64\\ 4.3 .52 .45 .60\\ 4.6 .55 .50 .60\\ 4.9 .50 .42 .60\\ 5.2 .41 .18 .72\\}{4 .32 .07 .75\\ 4.3 .48 .32 .63\\ 4.6 .55 .47 .62\\ 4.9 .45 .25 .90\\ 5.2 .27 .01 .98\\}
\Facet{0}{1}{3}{4 .11 .06 .18\\ 4.3 .09 .06 .13\\ 4.6 .07 .05 .10\\ 4.9 .05 .03 .09\\ 5.2 .03 .01 .10\\}{4 .01 0 .26\\ 4.3 .04 .01 .10\\ 4.6 .07 .03 .14\\ 4.9 .09 .04 .24\\ 5.2 .11 .04 .38\\}
\Facet{1}{1}{4}{4 .37 .18 .66\\ 4.3 .25 .16 .38\\ 4.6 .14 .09 .21\\ 4.9 .08 .04 .20\\ 5.2 .05 .01 .25\\}{4 .02 0 .15\\ 4.3 .06 .02 .14\\ 4.6 .15 .07 .35\\ 4.9 .32 .15 .85\\ 5.2 .57 .10 .97\\}
% ---------- P20 RANTES/CCL5
\Panel{3}{4}{33}{0.350}{RANTES/CCL5 log10 pg/ml}{yP,xmin=1.9,xmax=4.1,xtick={2,2.5,3,3.5,4},xticklabels={2.0,2.5,3.0,3.5,4.0},minor xtick={2.25,2.75,3.25,3.75}}
\Facet{0}{0}{1}{2 .39 .12 .72\\ 2.5 .31 .15 .50\\ 3 .24 .16 .33\\ 3.5 .18 .12 .24\\ 4 .13 .06 .22\\}{2 .95 .05 .99\\ 2.5 .82 .10 .98\\ 3 .55 .15 .88\\ 3.5 .25 .10 .45\\ 4 .09 .04 .57\\}
\Facet{1}{0}{2}{2 .48 .30 .65\\ 2.5 .53 .45 .60\\ 3 .54 .49 .59\\ 3.5 .54 .48 .60\\ 4 .50 .36 .62\\}{2 .04 0 .96\\ 2.5 .14 .02 .90\\ 3 .38 .12 .75\\ 3.5 .54 .45 .60\\ 4 .42 .10 .84\\}
\Facet{0}{1}{3}{2 .03 .01 .08\\ 2.5 .04 .02 .08\\ 3 .05 .03 .09\\ 3.5 .07 .04 .11\\ 4 .09 .05 .14\\}{2 0 0 .46\\ 2.5 .01 0 .27\\ 3 .03 .01 .12\\ 3.5 .06 .03 .12\\ 4 .10 .05 .17\\}
\Facet{1}{1}{4}{2 .07 .03 .16\\ 2.5 .11 .06 .17\\ 3 .15 .10 .22\\ 3.5 .20 .14 .30\\ 4 .26 .12 .42\\}{2 0 0 .62\\ 2.5 .01 0 .40\\ 3 .04 .01 .22\\ 3.5 .15 .06 .40\\ 4 .38 .10 .88\\}
% ---------- P21 TGF-a
\Panel{0}{5}{33}{0.822}{TGF-a log10 pg/ml}{yP,xmin=-0.175,xmax=3.675,xtick={0,1,2,3},xticklabels={0,1,2,3},minor xtick={0.5,1.5,2.5,3.5}}
\Facet{0}{0}{1}{0 .38 .28 .50\\ .875 .24 .18 .30\\ 1.75 .13 .09 .18\\ 2.625 .06 .03 .11\\ 3.5 .02 0 .09\\}{0 .44 .18 .76\\ .875 .30 .18 .48\\ 1.75 .18 .10 .46\\ 2.625 .10 .04 .62\\ 3.5 .06 .01 .78\\}
\Facet{1}{0}{2}{0 .49 .38 .60\\ .875 .55 .50 .60\\ 1.75 .50 .44 .57\\ 2.625 .36 .25 .48\\ 3.5 .22 .09 .42\\}{0 .47 .25 .70\\ .875 .53 .44 .61\\ 1.75 .55 .47 .63\\ 2.625 .48 .28 .80\\ 3.5 .37 .03 .94\\}
\Facet{0}{1}{3}{0 .04 .02 .08\\ .875 .07 .05 .10\\ 1.75 .09 .06 .14\\ 2.625 .11 .07 .17\\ 3.5 .12 .06 .19\\}{0 .03 .01 .10\\ .875 .06 .03 .10\\ 1.75 .09 .05 .16\\ 2.625 .11 .05 .25\\ 3.5 .11 .04 .20\\}
\Facet{1}{1}{4}{0 .06 .03 .11\\ .875 .15 .09 .21\\ 1.75 .28 .18 .40\\ 2.625 .45 .28 .66\\ 3.5 .63 .35 .85\\}{0 .06 .02 .18\\ .875 .10 .05 .17\\ 1.75 .18 .09 .45\\ 2.625 .29 .10 .90\\ 3.5 .43 .05 .97\\}
% ---------- P22 TNF
\Panel{1}{5}{33}{0.689}{TNF\hspace{1.1em}log10 pg/ml}{yP,xmin=0.875,xmax=3.625,xtick={1,1.5,2,2.5,3,3.5},xticklabels={1.0,1.5,2.0,2.5,3.0,3.5},minor xtick={1.25,1.75,2.25,2.75,3.25}}
\Facet{0}{0}{1}{1 .40 .25 .56\\ 1.625 .27 .20 .34\\ 2.25 .15 .10 .21\\ 2.875 .07 .04 .13\\ 3.5 .03 .01 .10\\}{1 .60 .18 .92\\ 1.625 .36 .18 .65\\ 2.25 .17 .08 .45\\ 2.875 .07 .02 .52\\ 3.5 .03 0 .65\\}
\Facet{1}{0}{2}{1 .49 .35 .63\\ 1.625 .55 .50 .60\\ 2.25 .54 .48 .60\\ 2.875 .44 .33 .55\\ 3.5 .28 .08 .56\\}{1 .35 .10 .72\\ 1.625 .50 .38 .62\\ 2.25 .55 .47 .62\\ 2.875 .44 .20 .82\\ 3.5 .24 .02 .93\\}
\Facet{0}{1}{3}{1 .04 .02 .07\\ 1.625 .06 .04 .09\\ 2.25 .09 .06 .13\\ 2.875 .10 .06 .16\\ 3.5 .10 .05 .18\\}{1 .02 0 .06\\ 1.625 .05 .02 .08\\ 2.25 .08 .04 .16\\ 2.875 .10 .05 .18\\ 3.5 .09 .02 .37\\}
\Facet{1}{1}{4}{1 .07 .03 .13\\ 1.625 .13 .08 .19\\ 2.25 .22 .15 .30\\ 2.875 .36 .22 .55\\ 3.5 .54 .25 .80\\}{1 .02 0 .10\\ 1.625 .07 .03 .16\\ 2.25 .18 .08 .40\\ 2.875 .38 .12 .90\\ 3.5 .63 .12 .97\\}
% ---------- P23 Lymphotoxin-a
\Panel{2}{5}{33}{0.836}{Lymphotoxin-a log10 pg/ml}{yP,xmin=-0.675,xmax=3.175,xtick={0,1,2,3},xticklabels={0,1,2,3},minor xtick={-0.5,0.5,1.5,2.5}}
\Facet{0}{0}{1}{-.5 .62 .35 .83\\ .375 .40 .28 .53\\ 1.25 .22 .15 .30\\ 2.125 .10 .06 .16\\ 3 .04 .02 .10\\}{-.5 .77 .15 .98\\ .375 .53 .22 .85\\ 1.25 .30 .16 .55\\ 2.125 .13 .05 .42\\ 3 .05 .01 .50\\}
\Facet{1}{0}{2}{-.5 .32 .20 .48\\ .375 .47 .38 .56\\ 1.25 .55 .50 .60\\ 2.125 .50 .42 .58\\ 3 .32 .15 .52\\}{-.5 .20 .03 .80\\ .375 .40 .22 .62\\ 1.25 .54 .45 .62\\ 2.125 .50 .32 .70\\ 3 .34 .05 .88\\}
\Facet{0}{1}{3}{-.5 .01 0 .04\\ .375 .03 .01 .05\\ 1.25 .05 .03 .08\\ 2.125 .09 .06 .15\\ 3 .11 .06 .19\\}{-.5 0 0 .11\\ .375 .02 .01 .05\\ 1.25 .05 .03 .08\\ 2.125 .09 .05 .16\\ 3 .11 .05 .18\\}
\Facet{1}{1}{4}{-.5 .02 .01 .05\\ .375 .06 .03 .10\\ 1.25 .14 .09 .21\\ 2.125 .30 .20 .43\\ 3 .52 .30 .75\\}{-.5 .01 0 .10\\ .375 .04 .01 .08\\ 1.25 .10 .05 .18\\ 2.125 .25 .10 .55\\ 3 .50 .10 .96\\}
% ---------- P24 VEGF-A
\Panel{3}{5}{33}{0.204}{VEGF-A log10 pg/ml}{yP,xmin=-0.175,xmax=3.675,xtick={0,1,2,3},xticklabels={0,1,2,3},minor xtick={0.5,1.5,2.5,3.5}}
\Facet{0}{0}{1}{0 .66 .30 .88\\ .875 .49 .30 .68\\ 1.75 .32 .20 .46\\ 2.625 .19 .10 .30\\ 3.5 .09 .04 .18\\}{0 .97 .55 .99\\ .875 .88 .62 .97\\ 1.75 .62 .35 .82\\ 2.625 .25 .10 .45\\ 3.5 .08 .03 .22\\}
\Facet{1}{0}{2}{0 .30 .12 .60\\ .875 .43 .30 .58\\ 1.75 .53 .45 .60\\ 2.625 .55 .48 .62\\ 3.5 .46 .30 .60\\}{0 .03 0 .30\\ .875 .12 .03 .42\\ 1.75 .34 .16 .60\\ 2.625 .55 .47 .63\\ 3.5 .40 .15 .70\\}
\Facet{0}{1}{3}{0 .01 0 .05\\ .875 .03 .01 .05\\ 1.75 .05 .03 .08\\ 2.625 .08 .05 .13\\ 3.5 .12 .07 .18\\}{0 0 0 .02\\ .875 .01 0 .03\\ 1.75 .03 .02 .06\\ 2.625 .07 .04 .14\\ 3.5 .12 .07 .20\\}
\Facet{1}{1}{4}{0 .03 .01 .07\\ .875 .06 .03 .10\\ 1.75 .12 .07 .18\\ 2.625 .20 .14 .30\\ 3.5 .32 .20 .47\\}{0 0 0 .02\\ .875 .01 0 .04\\ 1.75 .05 .02 .12\\ 2.625 .15 .08 .30\\ 3.5 .40 .15 .78\\}
\end{tikzpicture}
\end{document}
